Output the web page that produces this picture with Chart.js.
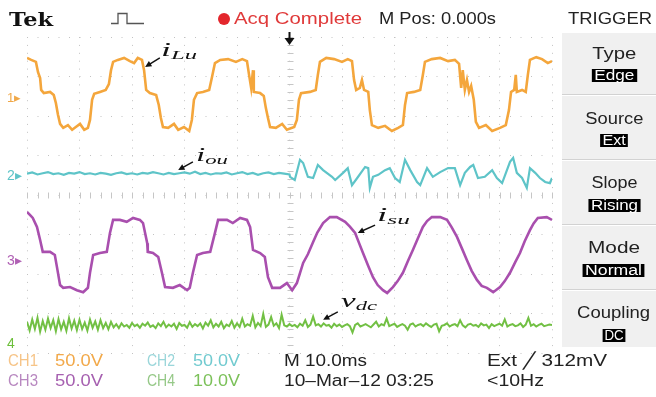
<!DOCTYPE html>
<html>
<head>
<meta charset="utf-8">
<script src="https://cdn.jsdelivr.net/npm/chart.js@4.4.0/dist/chart.umd.min.js"></script>
<style>
  body { margin: 0; width: 656px; height: 397px; position: relative; overflow: hidden; background: #fff; }
  #wrap { position: absolute; left: 0; top: 0; width: 656px; height: 397px; }
  .t { position: absolute; white-space: nowrap; line-height: 1; transform-origin: 0 0;
       font-family: "Liberation Sans", Arial, sans-serif; font-size: 16px; }
  .box { position: absolute; left: 562px; width: 94px; background: #f0f0f0; border-bottom: 1px solid #d2d2d2; }
  .c { position: absolute; left: 562px; width: 104px; text-align: center; line-height: 1;
       font-family: "Liberation Sans", Arial, sans-serif; font-size: 16px; color: #222; }
  .c span { display: inline-block; transform-origin: 50% 50%; }
  .inv span { background: #000; color: #fff; font-size: 14px; line-height: 13px; padding: 0 2px; }
  .m { position: absolute; white-space: nowrap; line-height: 1; transform-origin: 0 0; color: #111;
       font-family: "Liberation Serif", "DejaVu Serif", serif; font-style: italic; font-size: 19px; }
  .m sub { font-size: 13px; vertical-align: -3px; }
</style>
</head>
<body>
<div id="wrap"><canvas id="scope"></canvas></div>

<!-- header -->
<div class="t" style="left:9px;top:10px;font-family:'DejaVu Serif',serif;font-weight:bold;font-size:19px;color:#111" data-w="44">Tek</div>
<svg style="position:absolute;left:111px;top:12px" width="34" height="13">
  <polyline points="0,11.5 7,11.5 7,1.5 16,1.5 16,11.5 33,11.5" fill="none" stroke="#555" stroke-width="1.3"/>
</svg>
<div style="position:absolute;left:218px;top:13px;width:12px;height:12px;border-radius:50%;background:#e3262c"></div>
<div class="t" style="left:234px;top:10px;font-size:17px;color:#e03a3a" data-w="128">Acq Complete</div>
<div class="t" style="left:379px;top:10px;font-size:17px;color:#222" data-w="117">M Pos: 0.000s</div>
<div class="t" style="left:568px;top:10px;font-size:17px;color:#222" data-w="84">TRIGGER</div>

<!-- trigger menu -->
<div class="box" style="top:33px;height:61px"></div>
<div class="box" style="top:96px;height:63px"></div>
<div class="box" style="top:161px;height:63px"></div>
<div class="box" style="top:226px;height:63px"></div>
<div class="box" style="top:291px;height:56px;border-bottom:none"></div>
<div class="c" style="top:46px"><span data-w="44">Type</span></div>
<div class="c inv" style="top:67px"><span data-w="45">Edge</span></div>
<div class="c" style="top:111px"><span data-w="58">Source</span></div>
<div class="c inv" style="top:132px"><span data-w="28">Ext</span></div>
<div class="c" style="top:175px"><span data-w="46">Slope</span></div>
<div class="c inv" style="top:197px"><span data-w="52">Rising</span></div>
<div class="c" style="top:240px"><span data-w="52">Mode</span></div>
<div class="c inv" style="top:262px"><span data-w="62">Normal</span></div>
<div class="c" style="top:305px"><span data-w="73">Coupling</span></div>
<div class="c inv" style="top:327px"><span data-w="23">DC</span></div>

<!-- channel ground markers -->
<div class="t" style="left:7px;top:91px;font-size:13px;color:#f0a848">1▸</div>
<div class="t" style="left:7px;top:168px;font-size:14px;color:#5ec4c8">2▸</div>
<div class="t" style="left:7px;top:253px;font-size:14px;color:#b060b4">3▸</div>
<div class="t" style="left:7px;top:336px;font-size:14px;color:#6cbf3a">4</div>

<!-- trace labels -->
<div class="m" style="left:161px;top:40px" data-w="36">i<sub>Lu</sub></div>
<div class="m" style="left:196px;top:145px" data-w="32">i<sub>ou</sub></div>
<div class="m" style="left:377px;top:205px" data-w="33">i<sub>su</sub></div>
<div class="m" style="left:341px;top:291px" data-w="36">v<sub>dc</sub></div>

<!-- status line -->
<div class="t" style="left:8px;top:353px;color:#f6c487" data-w="30">CH1</div>
<div class="t" style="left:55px;top:353px;color:#f2a94a" data-w="48">50.0V</div>
<div class="t" style="left:147px;top:353px;color:#9ad6da" data-w="28">CH2</div>
<div class="t" style="left:193px;top:353px;color:#72cbd0" data-w="47">50.0V</div>
<div class="t" style="left:284px;top:353px;color:#222" data-w="83">M 10.0ms</div>
<div class="t" style="left:487px;top:353px;color:#222" data-w="120">Ext ╱ 312mV</div>
<div class="t" style="left:8px;top:373px;color:#b888c0" data-w="30">CH3</div>
<div class="t" style="left:55px;top:373px;color:#a660b0" data-w="48">50.0V</div>
<div class="t" style="left:147px;top:373px;color:#95c887" data-w="28">CH4</div>
<div class="t" style="left:193px;top:373px;color:#7cc15a" data-w="47">10.0V</div>
<div class="t" style="left:284px;top:373px;color:#222" data-w="150">10–Mar–12 03:25</div>
<div class="t" style="left:487px;top:373px;color:#222" data-w="57">&lt;10Hz</div>

<script>
// time in ms (10 ms/div, trigger at 0), amplitude in screen divisions (0 = centre line)

// CH1 i_Lu : stepped inductor current
const ch1 = [
  [-50.0,3.47],[-49.2,3.42],[-48.3,3.37],[-47.9,3.11],[-47.5,2.96],[-47.3,2.66],[-46.8,2.58],[-45.6,2.61],
  [-44.9,2.53],[-44.5,2.33],[-44.1,2.03],[-43.7,1.80],[-43.1,1.70],[-42.2,1.77],[-41.4,1.65],[-40.7,1.72],
  [-39.9,1.80],[-39.1,1.65],[-38.4,1.70],[-38.0,1.90],[-37.6,2.41],[-37.2,2.56],[-36.1,2.61],[-35.0,2.66],
  [-34.4,2.81],[-34.0,3.16],[-33.6,3.37],[-32.7,3.42],[-31.5,3.47],[-30.4,3.39],[-29.6,3.34],[-28.9,3.47],
  [-28.1,3.42],[-27.7,3.16],[-27.3,2.66],[-26.6,2.58],[-25.4,2.53],[-24.9,2.28],[-24.5,1.95],[-24.1,1.72],
  [-23.1,1.70],[-22.0,1.80],[-21.2,1.65],[-20.1,1.72],[-19.1,1.62],[-18.6,1.90],[-18.2,2.41],[-17.6,2.58],
  [-16.5,2.61],[-15.3,2.66],[-14.8,2.96],[-14.2,3.34],[-13.2,3.42],[-11.7,3.44],[-10.2,3.37],[-9.0,3.44],
  [-8.1,3.39],[-7.7,3.04],[-7.3,2.71],[-6.95,3.16],[-6.8,2.61],[-5.6,2.58],[-4.9,2.51],[-4.5,2.20],
  [-4.1,1.95],[-3.7,1.72],[-2.6,1.70],[-1.4,1.80],[-0.5,1.65],[0.9,1.72],[1.4,1.90],[1.8,2.41],
  [2.2,2.58],[3.9,2.61],[5.0,2.66],[5.4,3.04],[5.8,3.37],[7.0,3.47],[8.5,3.44],[10.0,3.37],
  [11.1,3.44],[11.9,3.39],[12.3,2.91],[12.7,2.66],[13.4,2.71],[13.8,2.91],[14.2,2.66],[15.0,2.61],
  [15.3,2.15],[15.7,1.77],[16.9,1.70],[18.2,1.75],[19.5,1.62],[20.7,1.70],[21.6,1.77],[22.0,2.28],
  [22.4,2.58],[23.7,2.61],[24.9,2.66],[25.4,3.04],[25.8,3.37],[27.1,3.44],[28.7,3.47],[30.2,3.39],
  [31.5,3.42],[32.3,3.32],[32.7,2.71],[33.0,3.16],[33.4,2.66],[33.8,2.91],[34.2,2.61],[34.6,2.76],
  [35.1,2.41],[35.5,1.85],[36.1,1.70],[37.4,1.77],[38.6,1.62],[40.1,1.70],[41.2,1.77],[41.8,2.15],
  [42.2,2.61],[42.8,2.66],[43.1,3.04],[43.3,2.61],[44.3,2.66],[45.0,2.61],[45.4,3.04],[45.8,3.42],
  [47.0,3.49],[48.1,3.44],[49.2,3.34],[50.0,3.39]
];

// CH2 i_ou : quiet before the trigger (1 ms samples from -50 ms), then oscillating
const ch2QuietStart = -50;
const ch2QuietStep = 1;
const ch2Quiet = [
  0.54,0.57,0.52,0.55,0.58,0.53,0.55,0.51,0.56,0.54,
  0.58,0.53,0.55,0.52,0.56,0.54,0.51,0.55,0.57,0.53,
  0.55,0.52,0.56,0.54,0.58,0.55,0.52,0.56,0.53,0.55,
  0.57,0.54,0.59,0.53,0.56,0.52,0.55,0.54,0.57,0.52,
  0.55,0.58,0.53,0.56,0.51,0.55,0.57,0.53,0.56,0.54,
  0.52
];
const ch2Active = [
  [0.1,0.46],[1.0,0.38],[2.0,0.89],[2.6,0.81],[3.5,0.46],[4.5,0.43],[5.4,0.76],[6.4,0.63],
  [8.1,0.46],[8.7,0.38],[10.2,0.56],[11.1,0.68],[11.9,0.25],[12.9,0.43],[14.4,0.71],[15.0,0.68],
  [15.3,0.18],[15.9,0.46],[16.9,0.51],[18.2,0.63],[19.1,0.68],[20.1,0.43],[21.0,0.33],[22.0,0.89],
  [23.0,0.63],[24.3,0.33],[24.9,0.25],[26.2,0.68],[27.3,0.46],[28.7,0.58],[30.2,0.68],[31.5,0.68],
  [32.5,0.25],[33.4,0.56],[34.4,0.71],[35.0,0.76],[35.9,0.43],[37.2,0.46],[38.6,0.63],[39.5,0.43],
  [40.5,0.30],[42.0,0.84],[42.6,0.94],[43.3,0.56],[44.3,0.43],[45.2,0.18],[45.8,0.68],[46.8,0.56],
  [47.7,0.43],[48.7,0.33],[49.6,0.30],[50.0,0.43]
];

// CH3 i_su : stepped before the trigger, sinusoidal after
const ch3 = [
  [-50.0,-0.43],[-49.4,-0.51],[-48.9,-0.58],[-48.1,-0.81],[-47.5,-1.14],[-47.0,-1.44],[-45.6,-1.44],[-44.7,-1.52],
  [-44.3,-1.82],[-43.7,-2.28],[-43.1,-2.35],[-41.8,-2.33],[-40.5,-2.41],[-39.3,-2.46],[-38.4,-2.35],[-38.0,-1.97],
  [-37.4,-1.52],[-36.1,-1.47],[-34.8,-1.44],[-34.2,-0.96],[-33.6,-0.63],[-32.3,-0.63],[-31.0,-0.68],[-29.8,-0.58],
  [-28.5,-0.63],[-27.9,-0.71],[-27.1,-1.22],[-27.0,-1.44],[-26.0,-1.47],[-25.0,-1.57],[-24.3,-1.97],[-23.7,-2.33],
  [-22.2,-2.35],[-20.9,-2.28],[-19.5,-2.41],[-19.0,-2.35],[-18.4,-1.97],[-17.6,-1.52],[-16.5,-1.47],[-15.1,-1.44],
  [-14.2,-0.96],[-13.6,-0.63],[-11.9,-0.63],[-10.8,-0.71],[-9.4,-0.58],[-8.1,-0.63],[-7.5,-0.81],[-6.95,-1.39],
  [-5.6,-1.47],[-4.7,-1.57],[-4.1,-2.08],[-3.3,-2.35],[-1.8,-2.35],[-0.5,-2.23],[0.5,-2.41],[1.4,-2.23],
  [2.6,-1.72],[3.5,-1.50],[4.5,-1.19],[5.3,-0.95],[6.4,-0.71],[7.7,-0.56],[9.0,-0.56],[10.6,-0.68],
  [11.5,-0.80],[12.5,-0.96],[13.2,-1.20],[14.0,-1.47],[15.0,-1.80],[15.9,-2.08],[16.8,-2.28],[17.8,-2.41],
  [18.6,-2.48],[19.7,-2.33],[20.6,-2.18],[21.6,-1.97],[22.6,-1.66],[23.5,-1.39],[24.5,-1.08],[25.4,-0.81],
  [26.2,-0.66],[27.1,-0.56],[28.7,-0.56],[30.0,-0.63],[30.9,-0.82],[31.9,-1.06],[32.9,-1.37],[33.8,-1.65],
  [34.7,-1.92],[35.7,-2.15],[36.6,-2.30],[37.6,-2.35],[38.8,-2.46],[40.1,-2.33],[41.0,-2.18],[42.0,-1.97],
  [43.0,-1.70],[43.9,-1.47],[44.8,-1.17],[45.8,-0.89],[46.5,-0.72],[47.3,-0.58],[49.0,-0.56],[50.0,-0.63]
];

// CH4 v_dc : DC link ripple, 0.5 ms samples from -50 ms
const ch4Start = -50;
const ch4Step = 0.5;
const ch4 = [
  -3.21,-3.43,-3.15,-3.39,-3.11,-3.46,-3.19,-3.41,-3.13,-3.37,
  -3.17,-3.45,-3.14,-3.40,-3.21,-3.44,-3.12,-3.38,-3.18,-3.42,
  -3.16,-3.39,-3.23,-3.43,-3.15,-3.36,-3.20,-3.41,-3.17,-3.37,
  -3.24,-3.40,-3.21,-3.35,-3.27,-3.37,-3.25,-3.33,-3.29,-3.36,
  -3.24,-3.32,-3.28,-3.36,-3.26,-3.31,-3.23,-3.34,-3.30,-3.37,
  -3.25,-3.32,-3.21,-3.35,-3.28,-3.33,-3.26,-3.39,-3.24,-3.31,
  -3.29,-3.36,-3.22,-3.34,-3.27,-3.32,-3.25,-3.38,-3.23,-3.31,
  -3.17,-3.35,-3.26,-3.33,-3.21,-3.37,-3.28,-3.32,-3.19,-3.36,
  -3.25,-3.34,-3.13,-3.33,-3.27,-3.31,-3.06,-3.35,-3.24,-3.32,
  -3.01,-3.34,-3.28,-3.09,-3.31,-3.25,-3.37,-3.03,-3.30,-3.33,
  -3.27,-3.32,-3.29,-3.35,-3.26,-3.31,-3.17,-3.34,-3.28,-3.08,
  -3.30,-3.27,-3.33,-3.25,-3.31,-3.29,-3.36,-3.26,-3.32,-3.28,
  -3.34,-3.30,-3.27,-3.32,-3.48,-3.29,-3.25,-3.33,-3.30,-3.27,
  -3.31,-3.35,-3.28,-3.21,-3.33,-3.27,-3.30,-3.13,-3.32,-3.29,
  -3.26,-3.34,-3.30,-3.27,-3.31,-3.41,-3.28,-3.25,-3.33,-3.29,
  -3.27,-3.32,-3.25,-3.30,-3.34,-3.28,-3.26,-3.45,-3.31,-3.29,
  -3.25,-3.33,-3.29,-3.27,-3.32,-3.17,-3.30,-3.35,-3.28,-3.26,
  -3.31,-3.29,-3.34,-3.25,-3.30,-3.28,-3.37,-3.27,-3.32,-3.29,
  -3.26,-3.31,-3.15,-3.33,-3.29,-3.27,-3.32,-3.30,-3.25,-3.34,
  -3.28,-3.11,-3.31,-3.27,-3.33,-3.29,-3.26,-3.32,-3.30,-3.28,
  -3.29
];

// pointer arrows next to the trace labels: [tail, head] in (ms, div)
const pointers = [
  [[-24.7, 3.47], [-27.5, 3.24]],
  [[-18.4, 0.84], [-21.2, 0.63]],
  [[16.3, -0.76], [13.0, -0.96]],
  [[9.2, -2.96], [6.4, -3.16]]
];

const pairs = list => list.map(([x, y]) => ({ x, y }));
const sampled = (start, step, list) => list.map((y, i) => ({ x: start + i * step, y }));

const scopeDecor = {
  id: "scopeDecor",
  beforeDatasetsDraw(chart) {
    const { ctx, scales: { x, y } } = chart;
    const cx = Math.round(x.getPixelForValue(0)) + 0.5;
    const cy = Math.round(y.getPixelForValue(0)) + 0.5;
    ctx.save();
    ctx.strokeStyle = "#c6c6c6";
    ctx.lineWidth = 1;
    ctx.beginPath();
    // minor ticks on the centre cross
    for (let v = -4; v <= 4.001; v += 0.2) {
      const py = Math.round(y.getPixelForValue(v)) + 0.5;
      ctx.moveTo(cx - 3, py); ctx.lineTo(cx + 3, py);
    }
    for (let t = -50; t <= 50.001; t += 2) {
      const px = Math.round(x.getPixelForValue(t)) + 0.5;
      ctx.moveTo(px, cy - 3); ctx.lineTo(px, cy + 3);
    }
    ctx.stroke();
    ctx.restore();
  },
  afterDatasetsDraw(chart) {
    const { ctx, chartArea, scales: { x, y } } = chart;
    ctx.save();
    ctx.strokeStyle = "#111";
    ctx.fillStyle = "#111";
    ctx.lineWidth = 1.4;
    pointers.forEach(([from, to]) => {
      const x1 = x.getPixelForValue(from[0]), y1 = y.getPixelForValue(from[1]);
      const x2 = x.getPixelForValue(to[0]), y2 = y.getPixelForValue(to[1]);
      const a = Math.atan2(y2 - y1, x2 - x1);
      ctx.beginPath();
      ctx.moveTo(x1, y1); ctx.lineTo(x2 - 4 * Math.cos(a), y2 - 4 * Math.sin(a));
      ctx.stroke();
      ctx.beginPath();
      ctx.moveTo(x2, y2);
      ctx.lineTo(x2 - 7 * Math.cos(a - 0.45), y2 - 7 * Math.sin(a - 0.45));
      ctx.lineTo(x2 - 7 * Math.cos(a + 0.45), y2 - 7 * Math.sin(a + 0.45));
      ctx.closePath();
      ctx.fill();
    });
    // trigger position marker
    const tx = x.getPixelForValue(0), top = chartArea.top;
    ctx.lineWidth = 2;
    ctx.beginPath();
    ctx.moveTo(tx, top - 5); ctx.lineTo(tx, top + 3);
    ctx.stroke();
    ctx.beginPath();
    ctx.moveTo(tx - 5, top + 1); ctx.lineTo(tx + 5, top + 1); ctx.lineTo(tx, top + 8);
    ctx.closePath();
    ctx.fill();
    ctx.restore();
  }
};

const ctx = document.getElementById("scope").getContext("2d");

new Chart(ctx, {
  type: "line",
  data: {
    datasets: [
      { label: "CH1", data: pairs(ch1), borderColor: "#f4a63c", borderWidth: 2.6 },
      { label: "CH2", data: sampled(ch2QuietStart, ch2QuietStep, ch2Quiet).concat(pairs(ch2Active)),
        borderColor: "#5ec4c8", borderWidth: 2.2 },
      { label: "CH3", data: pairs(ch3), borderColor: "#a94fae", borderWidth: 2.6 },
      { label: "CH4", data: sampled(ch4Start, ch4Step, ch4), borderColor: "#72c044", borderWidth: 2 }
    ]
  },
  options: {
    responsive: true,
    maintainAspectRatio: false,
    animation: false,
    events: [],
    layout: { padding: { left: 27, right: 104, top: 37, bottom: 44 } },
    elements: { point: { radius: 0 }, line: { tension: 0 } },
    plugins: { legend: { display: false }, tooltip: { enabled: false } },
    scales: {
      x: {
        type: "linear", min: -50, max: 50,
        ticks: { display: false, stepSize: 10 },
        grid: { color: "#c2c2c2", lineWidth: 1, drawTicks: false },
        border: { display: false, dash: [1, 6.9] }
      },
      y: {
        type: "linear", min: -4, max: 4,
        ticks: { display: false, stepSize: 1 },
        grid: { color: "#c2c2c2", lineWidth: 1, drawTicks: false },
        border: { display: false, dash: [1, 9.5] }
      }
    }
  },
  plugins: [scopeDecor]
});

// stretch screen texts to the widths they have on the scope display
function fitTexts() {
  document.querySelectorAll("[data-w]").forEach(el => {
    el.style.transform = "none";
    const w = el.getBoundingClientRect().width;
    if (w > 0) el.style.transform = "scaleX(" + (el.dataset.w / w) + ")";
  });
}
fitTexts();
if (document.fonts) document.fonts.ready.then(fitTexts);
</script>
</body>
</html>
